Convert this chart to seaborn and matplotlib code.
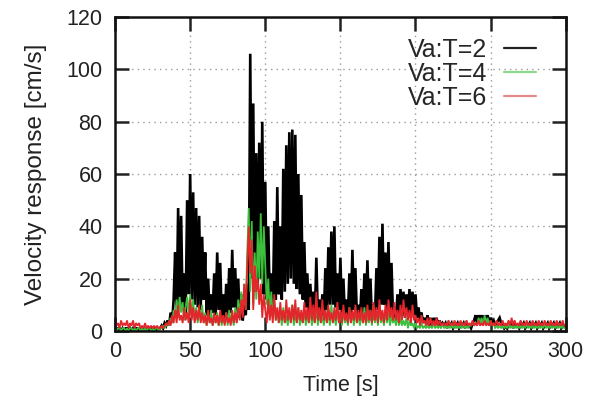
import numpy as np
import pandas as pd
import matplotlib
matplotlib.use("Agg")
import matplotlib.pyplot as plt
import seaborn as sns
from matplotlib.lines import Line2D

# ---- data (1 s sampling) ----
series_names = ["Va:T=2", "Va:T=4", "Va:T=6"]
series_colors = ["#000000", "#3cbf3c", "#e3262b"]
legend_colors = ["#222222", "#8fd68f", "#e58a8a"]
x_ticks = [0, 50, 100, 150, 200, 250, 300]
y_ticks = [0, 20, 40, 60, 80, 100, 120]

v_t2 = [
    1, 0, 1, 1, 0, 1, 0, 1, 1, 0,
    1, 0, 1, 0, 1, 1, 0, 1, 0, 1,
    0, 1, 1, 0, 1, 0, 1, 1, 0, 1,
    1, 2, 1, 3, 2, 4, 2, 7, 3, 12,
    30, 6, 47, 10, 44, 8, 22, 7, 50, 14,
    60, 12, 53, 10, 47, 9, 44, 8, 36, 12,
    30, 6, 20, 5, 14, 7, 22, 6, 30, 8,
    26, 5, 14, 4, 18, 6, 24, 7, 31, 9,
    24, 6, 20, 5, 14, 4, 10, 6, 18, 8,
    106, 20, 87, 15, 68, 18, 72, 20, 80, 14,
    57, 12, 40, 10, 22, 8, 42, 12, 55, 14,
    40, 12, 62, 15, 71, 18, 76, 20, 77, 18,
    75, 16, 60, 14, 52, 12, 34, 9, 22, 7,
    18, 6, 15, 5, 28, 5, 12, 4, 14, 6,
    24, 8, 32, 10, 38, 10, 40, 9, 22, 8,
    28, 7, 20, 5, 12, 5, 22, 6, 31, 8,
    24, 5, 10, 4, 16, 5, 22, 6, 27, 7,
    20, 4, 10, 5, 24, 8, 36, 10, 41, 10,
    30, 8, 34, 8, 26, 6, 9, 4, 14, 5,
    16, 6, 15, 5, 14, 6, 16, 5, 15, 6,
    14, 5, 9, 4, 7, 3, 5, 3, 6, 2,
    5, 2, 5, 3, 5, 2, 4, 2, 3, 2,
    3, 1, 3, 2, 3, 1, 2, 2, 3, 1,
    2, 2, 3, 1, 3, 2, 2, 1, 3, 4,
    6, 3, 6, 4, 6, 3, 6, 4, 6, 3,
    5, 3, 4, 2, 3, 4, 5, 3, 2, 1,
    2, 1, 3, 2, 3, 1, 3, 2, 2, 1,
    3, 2, 3, 1, 2, 2, 3, 1, 2, 2,
    3, 1, 2, 2, 3, 1, 2, 2, 3, 1,
    2, 2, 3, 1, 2, 2, 3, 1, 2, 2, 1,
]

v_t4 = [
    1, 0, 1, 1, 0, 1, 1, 0, 1, 0,
    1, 1, 0, 1, 0, 1, 1, 0, 1, 0,
    1, 0, 1, 1, 0, 1, 0, 1, 1, 0,
    1, 1, 2, 1, 2, 3, 2, 5, 3, 8,
    6, 12, 5, 13, 7, 11, 4, 9, 13, 6,
    14, 5, 12, 4, 9, 3, 8, 4, 10, 3,
    7, 2, 6, 3, 8, 2, 5, 3, 7, 2,
    6, 2, 5, 3, 7, 2, 8, 3, 6, 2,
    9, 3, 12, 5, 15, 6, 18, 8, 30, 47,
    15, 42, 10, 30, 12, 38, 20, 45, 18, 40,
    25, 10, 20, 6, 15, 5, 10, 4, 8, 3,
    7, 2, 9, 3, 6, 2, 8, 3, 10, 2,
    7, 3, 9, 2, 6, 3, 8, 2, 7, 3,
    9, 2, 6, 3, 10, 2, 8, 3, 6, 2,
    8, 3, 7, 2, 10, 3, 6, 2, 9, 3,
    7, 2, 8, 3, 6, 2, 9, 3, 7, 2,
    8, 3, 6, 2, 7, 3, 9, 2, 6, 3,
    8, 2, 10, 3, 7, 2, 9, 3, 6, 2,
    8, 3, 7, 2, 6, 3, 5, 2, 6, 2,
    5, 2, 4, 2, 5, 1, 4, 2, 3, 1,
    3, 1, 2, 1, 3, 1, 2, 1, 2, 1,
    2, 1, 3, 1, 2, 1, 2, 1, 3, 1,
    2, 1, 2, 1, 3, 1, 2, 1, 2, 1,
    2, 1, 3, 1, 2, 1, 2, 2, 3, 2,
    3, 2, 5, 3, 5, 2, 6, 3, 5, 2,
    4, 2, 3, 1, 2, 1, 2, 1, 2, 1,
    2, 1, 3, 1, 2, 1, 2, 1, 2, 1,
    2, 1, 2, 1, 3, 1, 2, 1, 2, 1,
    2, 1, 2, 1, 2, 1, 3, 1, 2, 1,
    2, 1, 2, 1, 2, 1, 2, 1, 2, 1, 1,
]

v_t6 = [
    4, 2, 3, 1, 4, 2, 3, 2, 4, 1,
    3, 2, 4, 1, 3, 2, 3, 1, 2, 1,
    3, 1, 2, 1, 2, 1, 2, 1, 2, 1,
    1, 2, 1, 2, 3, 2, 4, 2, 6, 3,
    8, 3, 10, 4, 6, 3, 9, 4, 7, 3,
    12, 4, 9, 3, 8, 4, 10, 3, 7, 3,
    6, 2, 8, 3, 5, 2, 7, 3, 6, 2,
    8, 3, 6, 2, 7, 3, 5, 2, 8, 3,
    7, 3, 9, 4, 12, 5, 18, 8, 25, 40,
    22, 35, 8, 25, 15, 20, 10, 18, 5, 14,
    8, 3, 12, 4, 10, 3, 14, 4, 9, 3,
    11, 4, 8, 3, 12, 4, 9, 3, 10, 4,
    12, 3, 9, 4, 8, 3, 11, 4, 9, 3,
    13, 4, 10, 3, 15, 4, 9, 3, 12, 4,
    8, 3, 10, 4, 7, 3, 9, 4, 11, 3,
    8, 3, 10, 4, 7, 3, 9, 3, 8, 4,
    10, 3, 8, 4, 9, 3, 7, 3, 10, 4,
    8, 3, 11, 4, 9, 3, 12, 4, 8, 3,
    10, 4, 12, 5, 9, 4, 11, 4, 8, 3,
    10, 4, 12, 5, 9, 4, 8, 3, 10, 4,
    6, 3, 5, 2, 6, 3, 4, 2, 5, 2,
    5, 2, 4, 2, 5, 2, 4, 2, 3, 2,
    3, 2, 4, 2, 3, 2, 4, 2, 3, 2,
    4, 2, 3, 2, 4, 2, 3, 2, 4, 2,
    3, 2, 4, 2, 3, 2, 4, 2, 3, 2,
    4, 2, 3, 2, 4, 2, 3, 2, 4, 2,
    3, 2, 4, 2, 5, 2, 4, 2, 3, 2,
    4, 2, 3, 2, 4, 2, 3, 2, 4, 2,
    3, 2, 4, 2, 3, 2, 4, 2, 3, 2,
    4, 2, 3, 2, 4, 2, 3, 2, 4, 2, 2,
]

time_s = list(range(len(v_t2)))

frames = []
for name, vals in zip(series_names, [v_t2, v_t4, v_t6]):
    frames.append(pd.DataFrame({"Time": time_s[:len(vals)], "Velocity": vals, "Series": name}))
df = pd.concat(frames, ignore_index=True)

sns.set_style("ticks")
plt.rcParams["font.family"] = ["Liberation Sans", "DejaVu Sans"]

fig = plt.figure(figsize=(5.93, 4.09), dpi=100)
ax = fig.add_axes([0.194, 0.191, 0.760, 0.767])

sns.lineplot(data=df, x="Time", y="Velocity", hue="Series",
             palette=dict(zip(series_names, series_colors)),
             hue_order=series_names, estimator=None, sort=False,
             linewidth=1.0, ax=ax, legend=False)

widths = [1.9, 1.3, 1.3]
for line, w in zip(ax.get_lines(), widths):
    line.set_linewidth(w)
    line.set_solid_joinstyle("miter")

ax.set_xlim(0, 300)
ax.set_ylim(0, 120)
ax.set_xticks(x_ticks)
ax.set_yticks(y_ticks)
ax.grid(True, color="#9a9a9a", linestyle=(0, (1, 3)), linewidth=1.0)
ax.set_axisbelow(True)

for sp in ax.spines.values():
    sp.set_visible(True)
    sp.set_linewidth(1.8)
    sp.set_color("#111111")
    sp.set_zorder(5)

ax.tick_params(axis="both", which="major", direction="in", length=10, width=1.8,
               top=True, right=True, labelsize=15.5, pad=7, colors="#222222")
ax.tick_params(axis="y", pad=9)

ax.set_xlabel("Time [s]", fontsize=15.5, labelpad=10, color="#222222")
ax.set_ylabel("Velocity response [cm/s]", fontsize=17.5, labelpad=14, color="#222222")

handles = [Line2D([], [], color=c, linewidth=1.6) for c in legend_colors]
leg = ax.legend(handles, series_names, loc="upper right", frameon=False, markerfirst=False,
                fontsize=18, handlelength=1.3, handletextpad=0.65, labelspacing=0.0,
                borderaxespad=0.0, bbox_to_anchor=(0.957, 0.965))

fig.savefig("out.png", dpi=100)
